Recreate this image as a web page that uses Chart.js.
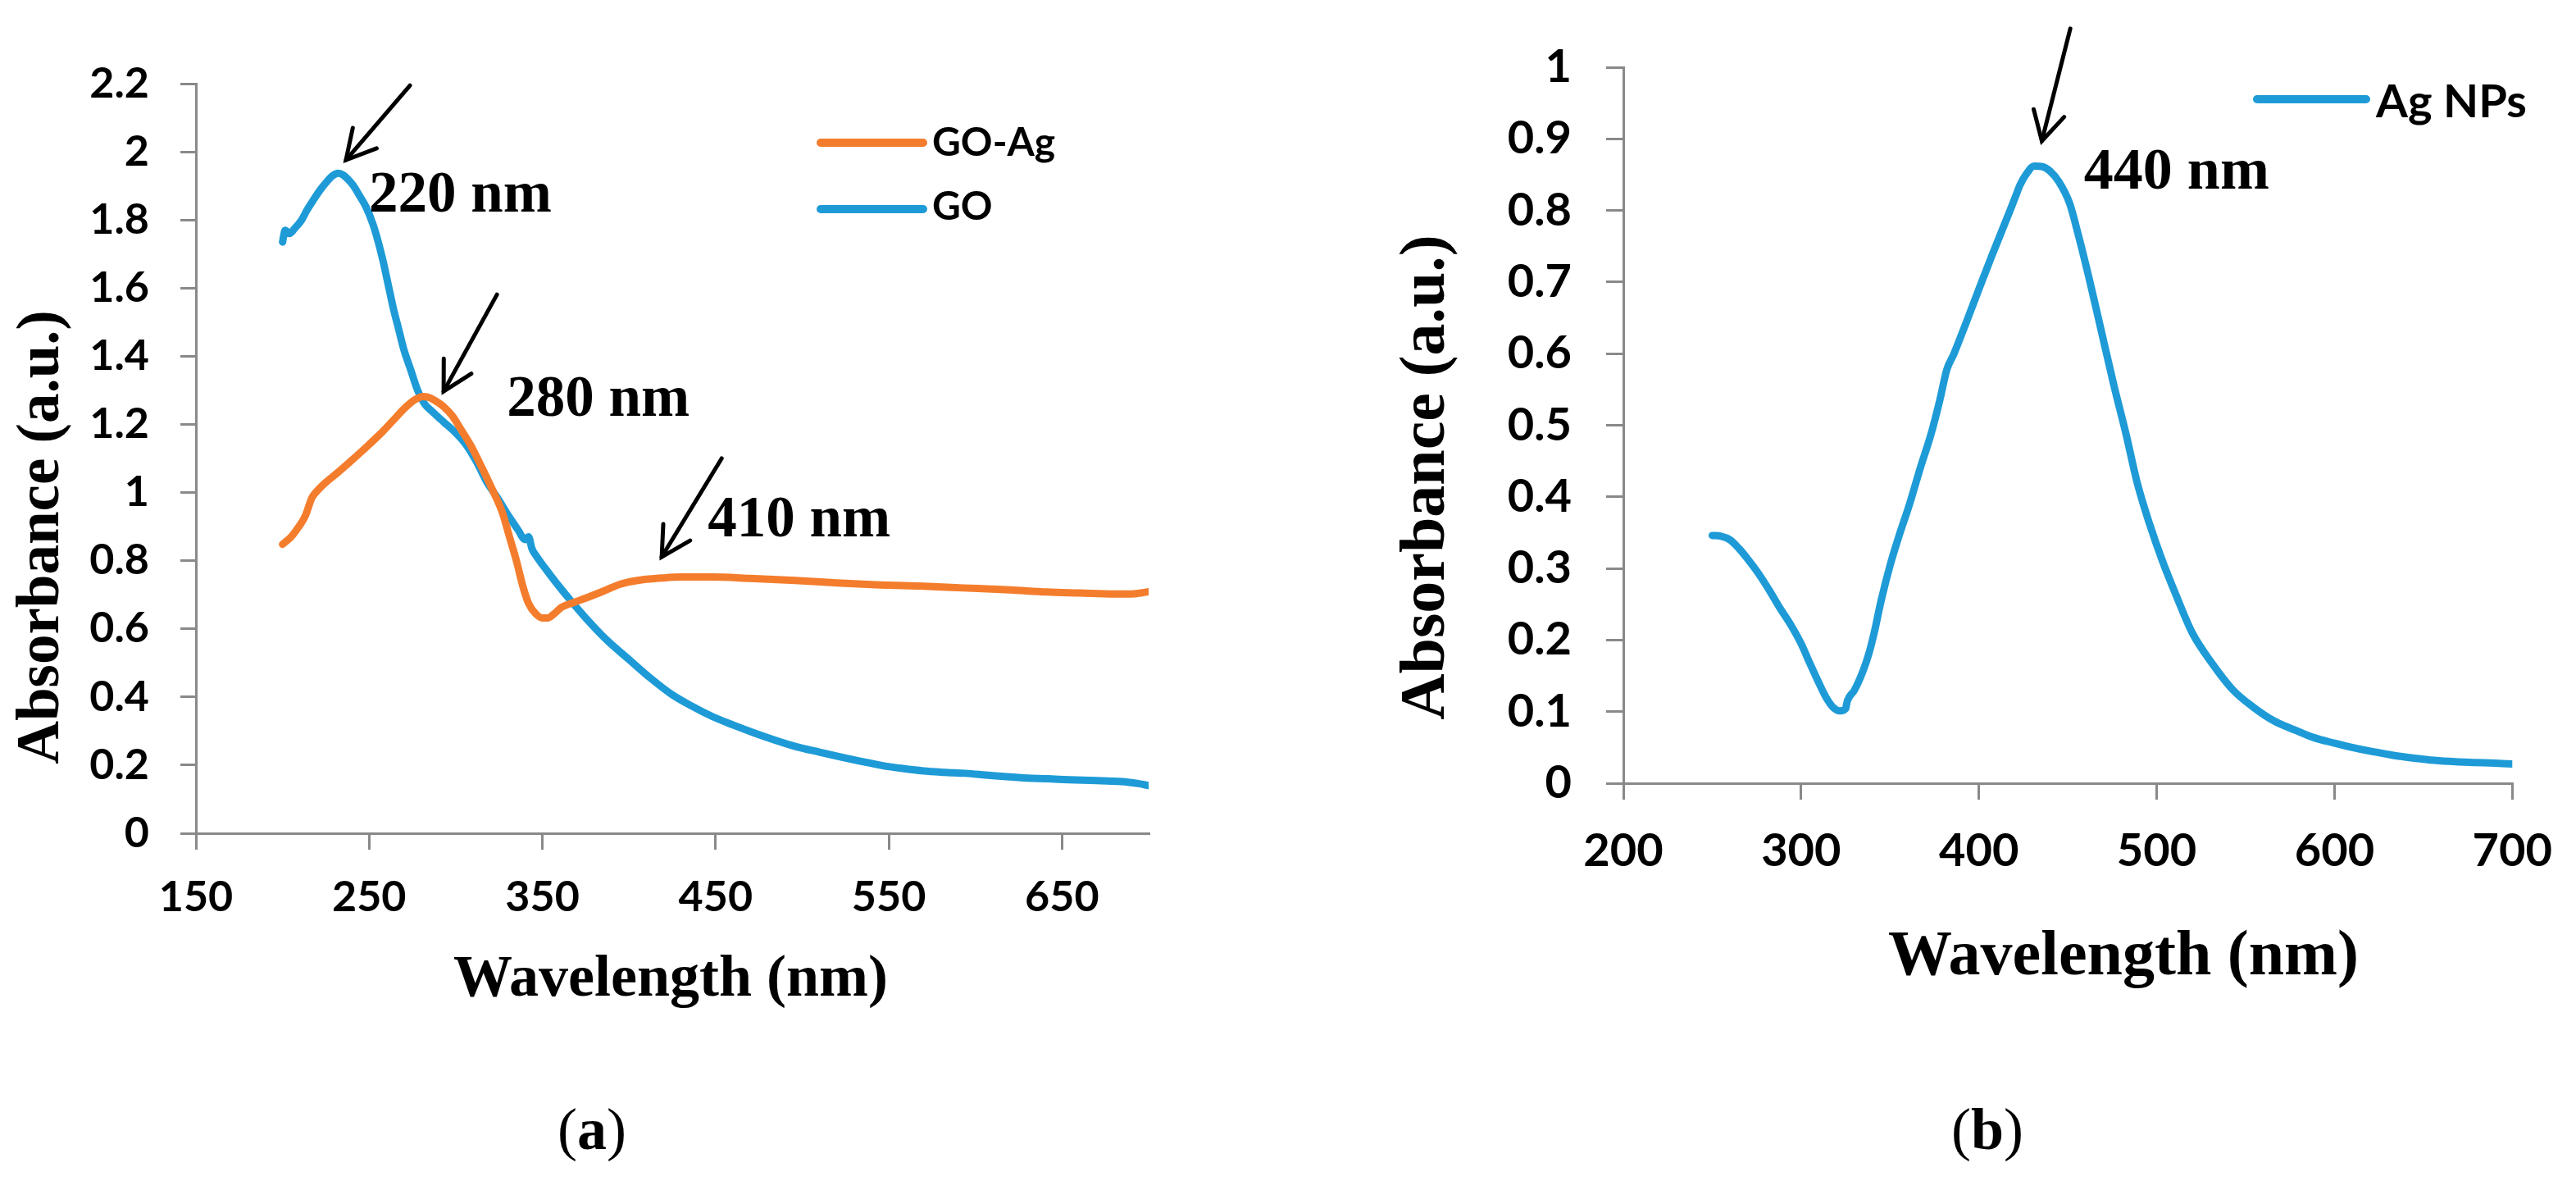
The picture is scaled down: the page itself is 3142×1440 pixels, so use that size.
<!DOCTYPE html>
<html>
<head>
<meta charset="utf-8">
<script src="https://cdn.jsdelivr.net/npm/chart.js@4.4.1/dist/chart.umd.min.js"></script>
<style>
html,body{margin:0;padding:0;background:#fff;width:3142px;height:1440px;overflow:hidden}
.panel{position:absolute;top:0;width:1571px;height:1440px}
canvas{display:block}
</style>
</head>
<body>
<div class="panel" style="left:0"><canvas id="chartA" width="1571" height="1440" style="width:1571px;height:1440px"></canvas></div>
<div class="panel" style="left:1571px"><canvas id="chartB" width="1571" height="1440" style="width:1571px;height:1440px"></canvas></div>
<script>
// ---------- DATA ----------
// Panel (a)
const goAgWavelength = [200,205,209,213,217,220,225,231,240,250,258,265,271,277,281,284,288,293,298,303,309,315,321,327,331,335,339,342,346,350,353,357,361,368,376,385,395,405,419,430,448,470,496,520,545,570,593,620,641,660,680,692,700];
const goAgAbsorbance = [0.848,0.87,0.897,0.93,0.985,1.005,1.03,1.055,1.095,1.141,1.18,1.218,1.25,1.274,1.282,1.28,1.27,1.252,1.225,1.185,1.135,1.074,1.01,0.94,0.87,0.80,0.72,0.675,0.645,0.632,0.632,0.645,0.663,0.677,0.692,0.71,0.731,0.742,0.749,0.752,0.752,0.748,0.742,0.735,0.729,0.725,0.72,0.714,0.708,0.705,0.702,0.703,0.709];

const goWavelength = [200,201.5,204,207,211,214,218,222,226,229,232,235,238,241,244,248,252,255,258,261,264,267,270,274,278,282,287,293,300,306,312,318,324,330,336,340,342,344,347,352,358,366,375,387,400,412,424,436,448,460,472,484,496,510,522,534,546,558,570,582,594,606,618,630,642,654,666,678,688,694,700];
const goAbsorbance = [1.735,1.77,1.76,1.775,1.80,1.828,1.86,1.89,1.915,1.93,1.937,1.932,1.918,1.9,1.875,1.84,1.79,1.74,1.68,1.61,1.54,1.48,1.42,1.36,1.30,1.26,1.235,1.207,1.175,1.14,1.09,1.03,0.985,0.935,0.89,0.862,0.87,0.835,0.81,0.775,0.735,0.685,0.632,0.568,0.51,0.457,0.41,0.374,0.343,0.318,0.295,0.274,0.255,0.238,0.224,0.211,0.199,0.19,0.183,0.179,0.176,0.171,0.166,0.162,0.16,0.157,0.155,0.153,0.15,0.146,0.14];

// Panel (b)
const agWavelength = [250,255,260,265,270,276,282,288,294,300,305,310,314,318,322,325,326,330,335,338,341,345,350,355,361,367,373,378,382,386,392,400,407,413,418,421,423,427,431,436,440,445,451,456,462,469,476,483,489,496,503,511,520,531,543,555,566,578,588,600,610,622,633,645,656,668,678,690,700];
const agAbsorbance = [0.346,0.345,0.34,0.328,0.313,0.293,0.27,0.245,0.222,0.195,0.167,0.14,0.12,0.106,0.101,0.104,0.115,0.13,0.158,0.18,0.209,0.255,0.304,0.345,0.39,0.44,0.487,0.535,0.578,0.6,0.638,0.69,0.735,0.772,0.803,0.822,0.835,0.852,0.862,0.861,0.855,0.84,0.81,0.765,0.705,0.63,0.555,0.485,0.42,0.362,0.312,0.262,0.21,0.168,0.13,0.105,0.087,0.074,0.064,0.056,0.05,0.044,0.039,0.035,0.032,0.03,0.029,0.028,0.027];

// Tick values and labels
const xTicksA = [150,250,350,450,550,650];
const xTickLabelsA = ['150','250','350','450','550','650'];
const yTicksA = [0,0.2,0.4,0.6,0.8,1,1.2,1.4,1.6,1.8,2,2.2];
const yTickLabelsA = ['0','0.2','0.4','0.6','0.8','1','1.2','1.4','1.6','1.8','2','2.2'];
const xTicksB = [200,300,400,500,600,700];
const xTickLabelsB = ['200','300','400','500','600','700'];
const yTicksB = [0,0.1,0.2,0.3,0.4,0.5,0.6,0.7,0.8,0.9,1];
const yTickLabelsB = ['0','0.1','0.2','0.3','0.4','0.5','0.6','0.7','0.8','0.9','1'];

// Series names
const seriesNamesA = ['GO-Ag','GO'];
const seriesNamesB = ['Ag NPs'];

// Peak annotation texts
const peakLabelsA = ['220 nm','280 nm','410 nm'];
const peakLabelsB = ['440 nm'];

// ---------- STYLE ----------
const ORANGE = '#F47D2D';
const BLUE = '#1E9BD7';
const AXIS = '#898989';
const SERIF = '"Liberation Serif", "Times New Roman", serif';
const SANS = 'Lato, "Open Sans", sans-serif';

function pts(xs, ys){ return xs.map((x,i)=>({x:x, y:ys[i]})); }

const overlayPlugin = {
  id: 'overlay',
  afterDraw(chart, args, o) {
    const ctx = chart.ctx;
    const xs = chart.scales.x, ys = chart.scales.y;
    ctx.save();
    // arrows (positions in data units)
    (o.arrows || []).forEach(a => {
      const x1 = xs.getPixelForValue(a.from[0]), y1 = ys.getPixelForValue(a.from[1]);
      const x2 = xs.getPixelForValue(a.to[0]), y2 = ys.getPixelForValue(a.to[1]);
      ctx.strokeStyle = '#000'; ctx.lineWidth = 5; ctx.lineCap = 'round';
      ctx.beginPath(); ctx.moveTo(x1,y1); ctx.lineTo(x2,y2); ctx.stroke();
      const ang = Math.atan2(y2-y1, x2-x1);
      const L = 40, spread = 0.5;
      ctx.beginPath();
      ctx.moveTo(x2 - L*Math.cos(ang-spread), y2 - L*Math.sin(ang-spread));
      ctx.lineTo(x2, y2);
      ctx.lineTo(x2 - L*Math.cos(ang+spread), y2 - L*Math.sin(ang+spread));
      ctx.stroke();
    });
    // peak labels
    ctx.fillStyle = '#000';
    ctx.textAlign = 'left'; ctx.textBaseline = 'alphabetic';
    (o.labels || []).forEach(l => {
      ctx.font = 'bold ' + o.labelSize + 'px ' + SERIF;
      ctx.fillText(l.text, xs.getPixelForValue(l.at[0]), ys.getPixelForValue(l.at[1]));
    });
    // legend
    const lg = o.legend;
    chart.data.datasets.forEach((ds, i) => {
      ctx.strokeStyle = ds.borderColor; ctx.lineWidth = 10; ctx.lineCap = 'round';
      const ly = lg.lineY[i];
      ctx.beginPath(); ctx.moveTo(lg.x0, ly); ctx.lineTo(lg.x1, ly); ctx.stroke();
      ctx.font = 'bold ' + lg.size + 'px ' + SANS;
      ctx.fillStyle = '#000'; ctx.textAlign = 'left';
      ctx.fillText(ds.label, lg.textX, lg.baseY[i]);
    });
    // axis titles
    const xt = o.xTitle;
    ctx.font = 'bold ' + xt.size + 'px ' + SERIF;
    ctx.textAlign = 'center'; ctx.textBaseline = 'alphabetic';
    ctx.fillText(xt.text, xt.x, xt.y);
    const yt = o.yTitle;
    ctx.save();
    ctx.translate(yt.x, yt.y);
    ctx.rotate(-Math.PI/2);
    ctx.font = 'bold ' + yt.size + 'px ' + SERIF;
    ctx.textAlign = 'center';
    ctx.fillText(yt.text, 0, 0);
    ctx.restore();
    // caption "(a)" / "(b)"
    const cp = o.caption;
    ctx.textAlign = 'left';
    ctx.font = cp.size + 'px ' + SERIF;
    const wl = ctx.measureText('(').width, wr = ctx.measureText(')').width;
    ctx.font = 'bold ' + cp.size + 'px ' + SERIF;
    const wm = ctx.measureText(cp.letter).width;
    let cx = cp.x - (wl + wm + wr)/2;
    ctx.font = cp.size + 'px ' + SERIF;
    ctx.fillText('(', cx, cp.y); cx += wl;
    ctx.font = 'bold ' + cp.size + 'px ' + SERIF;
    ctx.fillText(cp.letter, cx, cp.y); cx += wm;
    ctx.font = cp.size + 'px ' + SERIF;
    ctx.fillText(')', cx, cp.y);
    ctx.restore();
  }
};

function axisCommon(tickLen) {
  return {
    grid: {drawOnChartArea:false, drawTicks:true, tickLength:tickLen, tickWidth:3, tickColor:AXIS, color:AXIS, lineWidth:3},
    border: {display:true, color:AXIS, width:3}
  };
}

function makeChart(id, cfg) {
  return new Chart(document.getElementById(id), {
    type: 'line',
    data: { datasets: cfg.datasets },
    options: {
      responsive:false, devicePixelRatio:1, animation:false,
      layout: { padding: cfg.padding },
      elements: { point:{radius:0}, line:{borderWidth:9, cubicInterpolationMode:'monotone', borderCapStyle:'round', borderJoinStyle:'round'} },
      plugins: { legend:{display:false}, tooltip:{enabled:false}, overlay: cfg.overlay },
      scales: {
        x: Object.assign(axisCommon(cfg.xTickLen), {
          type:'linear', min:cfg.xMin, max:cfg.xMax,
          afterBuildTicks: s => { s.ticks = cfg.xTicks.map(v=>({value:v})); },
          afterFit: s => { s.height = cfg.xHeight; },
          ticks: { color:'#000', font:{family:SANS, weight:'bold', size:cfg.tickSize}, padding:cfg.xPad, maxRotation:0, autoSkip:false,
                   callback: (v,i) => cfg.xLabels[i] }
        }),
        y: Object.assign(axisCommon(cfg.yTickLen), {
          type:'linear', min:cfg.yMin, max:cfg.yMax,
          afterBuildTicks: s => { s.ticks = cfg.yTicks.map(v=>({value:v})); },
          afterFit: s => { s.width = cfg.yWidth; },
          ticks: { color:'#000', font:{family:SANS, weight:'bold', size:cfg.tickSize}, padding:cfg.yPad, autoSkip:false,
                   callback: (v,i) => cfg.yLabels[i] }
        })
      }
    },
    plugins: [overlayPlugin]
  });
}

function build() {
  makeChart('chartA', {
    datasets: [
      {label:seriesNamesA[0], data:pts(goAgWavelength, goAgAbsorbance), borderColor:ORANGE, backgroundColor:ORANGE, fill:false},
      {label:seriesNamesA[1], data:pts(goWavelength, goAbsorbance), borderColor:BLUE, backgroundColor:BLUE, fill:false}
    ],
    padding: {left:0, top:102, right:170, bottom:0},
    xMin:150, xMax:700, yMin:0, yMax:2.2,
    xTicks:xTicksA, xLabels:xTickLabelsA, yTicks:yTicksA, yLabels:yTickLabelsA,
    xTickLen:20, yTickLen:19, xPad:27, yPad:38, tickSize:52,
    xHeight:424, yWidth:239,
    overlay: {
      arrows: [
        {from:[273.6,2.195], to:[236.6,1.976]},
        {from:[323.8,1.581], to:[293.0,1.297]},
        {from:[453.5,1.100], to:[418.9,0.811]}
      ],
      labelSize: 71,
      labels: [
        {text:peakLabelsA[0], at:[249.9,1.824]},
        {text:peakLabelsA[1], at:[329.5,1.225]},
        {text:peakLabelsA[2], at:[445.5,0.871]}
      ],
      legend: {x0:1001, x1:1126, lineY:[174,255], textX:1137, baseY:[190,268], size:48},
      xTitle: {text:'Wavelength (nm)', x:818, y:1214, size:72},
      yTitle: {text:'Absorbance (a.u.)', x:71, y:655, size:73},
      caption: {letter:'a', x:722, y:1401, size:72}
    }
  });
  makeChart('chartB', {
    datasets: [
      {label:seriesNamesB[0], data:pts(agWavelength, agAbsorbance), borderColor:BLUE, backgroundColor:BLUE, fill:false}
    ],
    padding: {left:0, top:82, right:66, bottom:0},
    xMin:200, xMax:700, yMin:0, yMax:1,
    xTicks:xTicksB, xLabels:xTickLabelsB, yTicks:yTicksB, yLabels:yTickLabelsB,
    xTickLen:20, yTickLen:21, xPad:29, yPad:42, tickSize:56,
    xHeight:485, yWidth:409,
    overlay: {
      arrows: [
        {from:[451.4,1.054], to:[435.4,0.897]}
      ],
      labelSize: 72,
      labels: [
        {text:peakLabelsB[0], at:[459.1,0.830]}
      ],
      legend: {x0:1182, x1:1315, lineY:[121], textX:1327, baseY:[143], size:56},
      xTitle: {text:'Wavelength (nm)', x:1019, y:1188, size:78},
      yTitle: {text:'Absorbance (a.u.)', x:190, y:582, size:78},
      caption: {letter:'b', x:853, y:1401, size:72}
    }
  });
}

if (document.fonts && document.fonts.load) {
  Promise.all([
    document.fonts.load('bold 52px Lato'),
    document.fonts.load('bold 72px "Liberation Serif"'),
    document.fonts.load('72px "Liberation Serif"')
  ]).then(build, build);
} else { build(); }
</script>
</body>
</html>
